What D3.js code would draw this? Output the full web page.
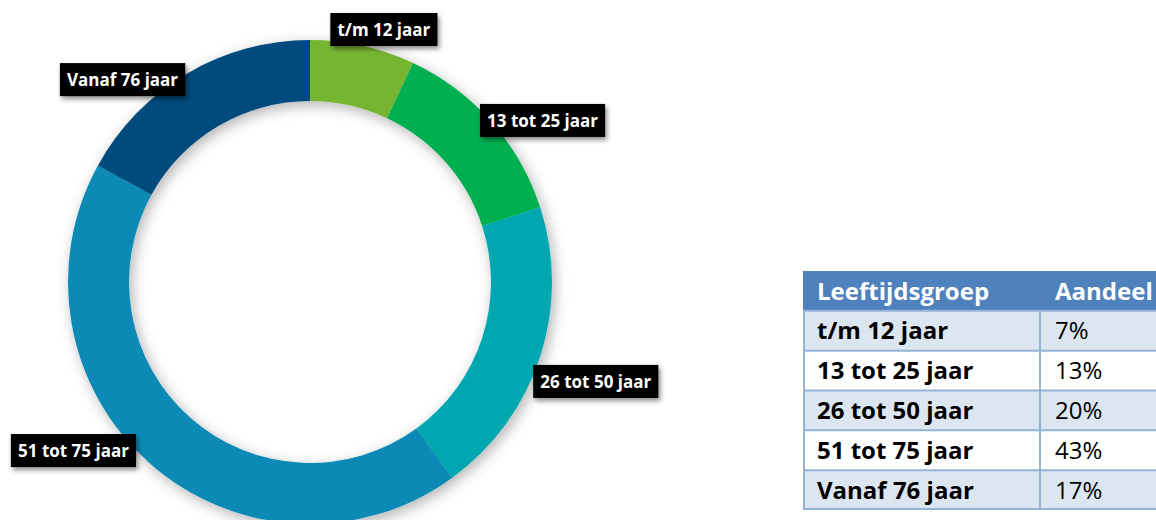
<!DOCTYPE html>
<html>
<head>
<meta charset="utf-8">
<script src="https://cdn.jsdelivr.net/npm/d3@7"></script>
<style>
  body { margin: 0; background: #ffffff; }
  svg { display: block; font-family: "Open Sans", Lato, sans-serif; }
</style>
</head>
<body>
<div id="chart"></div>
<script>
// data
var groups = ["t/m 12 jaar", "13 tot 25 jaar", "26 tot 50 jaar", "51 tot 75 jaar", "Vanaf 76 jaar"];
var shares = [7, 13, 20, 43, 17];
var colors = ["#76B531", "#00B050", "#00A7B1", "#0789B5", "#034B7E"];
var tableHeader = ["Leeftijdsgroep", "Aandeel"];

var width = 1156, height = 520;

var svg = d3.select("#chart")
    .append("svg")
    .attr("width", width)
    .attr("height", height);

var defs = svg.append("defs");
var f = defs.append("filter").attr("id", "glow")
    .attr("x", "-20%").attr("y", "-20%").attr("width", "140%").attr("height", "140%");
f.append("feDropShadow").attr("dx", 3).attr("dy", 4).attr("stdDeviation", 7)
    .attr("flood-color", "#000").attr("flood-opacity", 0.3);
var f2 = defs.append("filter").attr("id", "boxshadow")
    .attr("x", "-20%").attr("y", "-40%").attr("width", "140%").attr("height", "180%");
f2.append("feDropShadow").attr("dx", 2).attr("dy", 3).attr("stdDeviation", 2.5)
    .attr("flood-color", "#000").attr("flood-opacity", 0.45);

// donut
var cx = 310, cy = 282, outerR = 242, innerR = 181;

var pie = d3.pie().sort(null).value(function (d) { return d; });
var arcs = pie(shares);
var arc = d3.arc().innerRadius(innerR).outerRadius(outerR);

var g = svg.append("g").attr("transform", "translate(" + cx + "," + cy + ")");

g.append("g").attr("filter", "url(#glow)")
    .selectAll("path")
    .data(arcs)
    .enter().append("path")
    .attr("d", arc)
    .attr("fill", function (d, i) { return colors[i]; });

// label boxes: placed at the slice's mid angle, then nudged like the original
var labelArc = d3.arc().innerRadius(270).outerRadius(270);
var nudge = [[15, 11], [30, 17], [29, 16], [-58, -34], [-50, 30]];

var labels = g.selectAll("g.lbl")
    .data(arcs)
    .enter().append("g")
    .attr("class", "lbl")
    .attr("transform", function (d, i) {
        var c = labelArc.centroid(d);
        return "translate(" + (c[0] + nudge[i][0]) + "," + (c[1] + nudge[i][1]) + ")";
    });

labels.append("rect").attr("fill", "#000").attr("filter", "url(#boxshadow)");
labels.append("text")
    .attr("text-anchor", "middle")
    .attr("dy", "0.36em")
    .style("font-size", "17px")
    .style("font-weight", "bold")
    .style("fill", "#fff")
    .text(function (d, i) { return groups[i]; });

labels.each(function () {
    var t = d3.select(this).select("text").node().getBBox();
    d3.select(this).select("rect")
        .attr("x", -t.width / 2 - 7)
        .attr("y", -16.5)
        .attr("width", t.width + 14)
        .attr("height", 33);
});

// table
var tx = 803, tw = 400, col2 = 1040;
var rowY = d3.scaleBand()
    .domain(d3.range(groups.length + 1))
    .range([271, 510]);

var table = svg.append("g");

table.selectAll("rect.row")
    .data(d3.range(groups.length + 1))
    .enter().append("rect")
    .attr("x", tx)
    .attr("y", function (d) { return rowY(d); })
    .attr("width", tw)
    .attr("height", rowY.bandwidth())
    .attr("fill", function (d) { return d === 0 ? "#4F81BD" : (d % 2 === 1 ? "#DCE6F1" : "#ffffff"); });

// grid lines
table.selectAll("line.h")
    .data(d3.range(1, groups.length + 2))
    .enter().append("line")
    .attr("x1", tx).attr("x2", tx + tw)
    .attr("y1", function (d) { return d > groups.length ? 509 : rowY(d); })
    .attr("y2", function (d) { return d > groups.length ? 509 : rowY(d); })
    .attr("stroke", "#95B3D7").attr("stroke-width", 2);
table.append("line")
    .attr("x1", tx + 1).attr("x2", tx + 1)
    .attr("y1", rowY(1)).attr("y2", 510)
    .attr("stroke", "#95B3D7").attr("stroke-width", 2);
table.append("line")
    .attr("x1", col2).attr("x2", col2)
    .attr("y1", rowY(1)).attr("y2", 510)
    .attr("stroke", "#95B3D7").attr("stroke-width", 2);

table.selectAll("text.hdr")
    .data(tableHeader)
    .enter().append("text")
    .attr("x", function (d, i) { return i === 0 ? 817 : 1055; })
    .attr("y", rowY(0) + rowY.bandwidth() / 2)
    .attr("dy", "0.36em")
    .style("font-size", "24px")
    .style("font-weight", "bold")
    .style("fill", "#fff")
    .text(function (d) { return d; });

table.selectAll("text.grp")
    .data(groups)
    .enter().append("text")
    .attr("x", 817)
    .attr("y", function (d, i) { return rowY(i + 1) + rowY.bandwidth() / 2; })
    .attr("dy", "0.36em")
    .style("font-size", "24px")
    .style("font-weight", "bold")
    .style("fill", "#000")
    .text(function (d) { return d; });

table.selectAll("text.val")
    .data(shares)
    .enter().append("text")
    .attr("x", 1055)
    .attr("y", function (d, i) { return rowY(i + 1) + rowY.bandwidth() / 2; })
    .attr("dy", "0.36em")
    .style("font-size", "24px")
    .style("fill", "#000")
    .text(function (d) { return d + "%"; });
</script>
</body>
</html>
